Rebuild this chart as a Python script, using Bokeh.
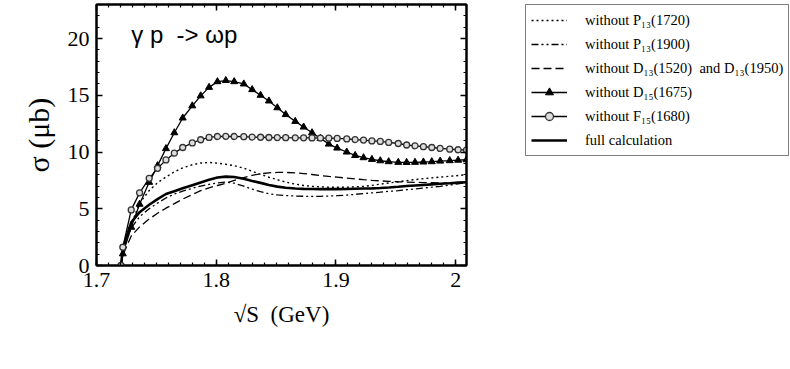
from bokeh.plotting import figure
from bokeh.layouts import row
from bokeh.models import (LinearAxis, FixedTicker, Legend, LegendItem, Label, ColumnDataSource,
                          Range1d, CustomJSTickFormatter)
from bokeh.embed import file_html
from bokeh.resources import INLINE

# ---------------- data ----------------
sqrt_s = [1.7205, 1.722, 1.729, 1.736, 1.744, 1.751, 1.758, 1.765, 1.772, 1.780, 1.787,
          1.794, 1.801, 1.808, 1.815, 1.823, 1.830, 1.837, 1.844, 1.851, 1.858, 1.866,
          1.873, 1.880, 1.887, 1.894, 1.901, 1.909, 1.916, 1.923, 1.930, 1.937, 1.944,
          1.952, 1.959, 1.966, 1.973, 1.980, 1.987, 1.995, 2.002, 2.009]

no_p13_1720 = [0, 1.3, 3.6, 5.5, 6.6, 7.3, 7.8, 8.25, 8.6, 8.88, 9.03,
               9.08, 9.02, 8.92, 8.8, 8.58, 8.3, 8.03, 7.78, 7.56, 7.35, 7.17,
               7.05, 6.97, 6.93, 6.9, 6.89, 6.9, 6.93, 6.98, 7.06, 7.17, 7.27,
               7.38, 7.48, 7.57, 7.65, 7.72, 7.79, 7.86, 7.93, 8.0]

no_p13_1900 = [0, 1.3, 3.3, 4.3, 5.0, 5.5, 5.95, 6.3, 6.55, 6.8, 7.0,
               7.15, 7.28, 7.35, 7.25, 7.0, 6.72, 6.5, 6.33, 6.22, 6.16, 6.12,
               6.1, 6.09, 6.1, 6.12, 6.15, 6.2, 6.27, 6.33, 6.4, 6.46, 6.53,
               6.6, 6.68, 6.75, 6.83, 6.9, 6.98, 7.08, 7.2, 7.33]

no_d13 = [0, 0.9, 2.6, 3.4, 4.1, 4.6, 5.05, 5.45, 5.85, 6.25, 6.6,
          6.85, 7.05, 7.25, 7.5, 7.75, 7.95, 8.08, 8.17, 8.2, 8.2, 8.16,
          8.1, 8.02, 7.93, 7.85, 7.78, 7.7, 7.63, 7.56, 7.5, 7.46, 7.42,
          7.38, 7.35, 7.33, 7.31, 7.29, 7.27, 7.26, 7.25, 7.24]

no_d15 = [0, 1.03, 3.37, 5.4, 7.33, 8.8, 10.3, 11.7, 13.0, 14.07, 14.95,
          15.7, 16.2, 16.3, 16.2, 16.0, 15.5, 15.0, 14.5, 13.9, 13.3, 12.7,
          12.2, 11.7, 11.2, 10.7, 10.35, 10.0, 9.7, 9.5, 9.35, 9.23, 9.15,
          9.09, 9.08, 9.09, 9.12, 9.15, 9.2, 9.24, 9.28, 9.32]

no_f15 = [0, 1.61, 4.9, 6.4, 7.68, 8.56, 9.3, 9.9, 10.4, 10.8, 11.08,
          11.29, 11.37, 11.38, 11.37, 11.35, 11.32, 11.3, 11.28, 11.27, 11.26, 11.25,
          11.25, 11.24, 11.23, 11.22, 11.2, 11.15, 11.1, 11.05, 10.98, 10.93, 10.85,
          10.75, 10.62, 10.55, 10.47, 10.4, 10.32, 10.25, 10.2, 10.17]

full_calc = [0, 1.5, 3.8, 4.7, 5.35, 5.85, 6.3, 6.55, 6.8, 7.08, 7.32,
             7.55, 7.75, 7.83, 7.8, 7.65, 7.45, 7.28, 7.1, 6.95, 6.85, 6.78,
             6.75, 6.74, 6.73, 6.73, 6.73, 6.74, 6.76, 6.78, 6.8, 6.83, 6.88,
             6.94, 7.0, 7.05, 7.1, 7.15, 7.2, 7.25, 7.3, 7.33]

x_ticks = [1.7, 1.8, 1.9, 2]
x_tick_labels = {2: "2"}
y_ticks = [0, 5, 10, 15, 20]

legend_labels = ["without P₁₃(1720)", "without P₁₃(1900)",
                 "without D₁₃(1520)\u00a0\u00a0and D₁₃(1950)", "without D₁₅(1675)",
                 "without F₁₅(1680)", "full calculation"]
reaction = "γ p\u00a0\u00a0-> ωp"
x_title = "√S\u00a0\u00a0(GeV)"
y_title = "σ (μb)"

# ---------------- styles ----------------
SERIF = "Liberation Serif"
COLS = ["a", "b", "c", "d", "f", "full"]
STYLES = [
    dict(line_width=1.4, line_dash="2 3"),
    dict(line_width=1.3, line_dash="7 3 2 3 2 3"),
    dict(line_width=1.3, line_dash="8 4"),
    dict(line_width=1.3, line_dash="solid"),
    dict(line_width=1.3, line_dash="solid"),
    dict(line_width=2.6, line_dash="solid"),
]
TRI = dict(marker="triangle", size=7, fill_color="black", line_color="black")
CIRC = dict(marker="circle", size=6, fill_color="#dddddd", line_color="#333333", line_width=1.3)

# ---------------- main figure ----------------
src = ColumnDataSource(dict(x=sqrt_s, a=no_p13_1720, b=no_p13_1900, c=no_d13,
                            d=no_d15, f=no_f15, full=full_calc))

p = figure(width=478, height=365, output_backend="svg", toolbar_location=None,
           x_range=Range1d(1.7, 2.009), y_range=Range1d(0, 23),
           min_border_left=96, min_border_right=12, min_border_top=4, min_border_bottom=100,
           x_axis_label=x_title, y_axis_label=y_title)
p.grid.visible = False
p.outline_line_color = "black"
p.outline_line_width = 2
p.background_fill_color = "white"
p.border_fill_color = "white"

x_minor = [1.7 + 0.01 * i for i in range(0, 31)]
y_minor = list(range(0, 24))

def style_axis(ax, ticks, minor, show_labels):
    ax.ticker = FixedTicker(ticks=ticks, minor_ticks=minor)
    ax.axis_line_width = 2
    ax.axis_line_color = "black"
    ax.major_tick_in = 6
    ax.major_tick_out = 0
    ax.minor_tick_in = 3
    ax.minor_tick_out = 0
    ax.major_tick_line_width = 1.5
    ax.minor_tick_line_width = 1.2
    ax.major_label_text_font = SERIF
    ax.major_label_text_color = "black"
    if show_labels:
        ax.major_label_text_font_size = "22px"
        ax.major_label_standoff = 7
    else:
        ax.formatter = CustomJSTickFormatter(code="return ''")
        ax.major_label_text_font_size = "1px"
        ax.major_label_standoff = 0

style_axis(p.xaxis[0], x_ticks, x_minor, True)
style_axis(p.yaxis[0], y_ticks, y_minor, True)
p.xaxis[0].major_label_overrides = x_tick_labels
for ax, size in ((p.xaxis[0], "23px"), (p.yaxis[0], "30px")):
    ax.axis_label_text_font = SERIF
    ax.axis_label_text_font_size = size
    ax.axis_label_text_font_style = "normal"
    ax.axis_label_text_color = "black"
    ax.axis_label_standoff = 10
p.xaxis[0].axis_label_standoff = 12

top_ax = LinearAxis()
style_axis(top_ax, x_ticks, x_minor, False)
p.add_layout(top_ax, "above")
right_ax = LinearAxis()
style_axis(right_ax, y_ticks, y_minor, False)
p.add_layout(right_ax, "right")

for col, st in zip(COLS, STYLES):
    p.line("x", col, source=src, line_color="black", **st)
p.scatter("x", "d", source=src, **TRI)
p.scatter("x", "f", source=src, **CIRC)

p.add_layout(Label(x=1.729, y=20.4, text=reaction, text_font="Liberation Sans",
                   text_font_size="24px", text_baseline="middle", text_color="black"))

# ---------------- legend panel (its glyphs share the data, outside this panel's view) ----------------
q = figure(width=312, height=365, output_backend="svg", toolbar_location=None,
           x_axis_type=None, y_axis_type=None, x_range=Range1d(0, 1), y_range=Range1d(-100, -99),
           min_border_left=47, min_border_right=0, min_border_top=3, min_border_bottom=0)
q.grid.visible = False
q.outline_line_color = None
q.background_fill_color = "white"
q.border_fill_color = "white"

items = []
for i, (lab, col, st) in enumerate(zip(legend_labels, COLS, STYLES)):
    rs = [q.line("x", col, source=src, line_color="black", **st)]
    if i == 3:
        rs.append(q.scatter("x", col, source=src, **TRI))
    if i == 4:
        rs.append(q.scatter("x", col, source=src, **CIRC))
    items.append(LegendItem(label=lab, renderers=rs))

legend = Legend(items=items, location="top_left")
legend.border_line_color = "black"
legend.border_line_width = 1.5
legend.background_fill_color = "white"
legend.background_fill_alpha = 1
legend.label_text_font = SERIF
legend.label_text_font_size = "14.5px"
legend.label_text_color = "black"
legend.glyph_width = 36
legend.glyph_height = 20
legend.label_height = 19
legend.spacing = 4
legend.padding = 5
legend.label_standoff = 18
legend.margin = 0
q.add_layout(legend, "center")

open("out.html", "w").write(file_html(row(p, q), INLINE))
